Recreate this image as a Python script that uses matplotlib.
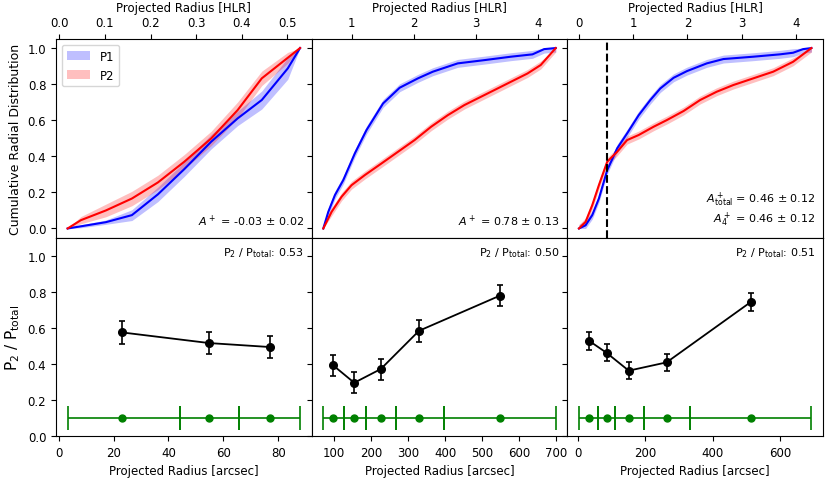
import numpy as np
import matplotlib.pyplot as plt
from matplotlib.ticker import MultipleLocator

# --- top row: cumulative radial distributions (x in HLR) ---
hlr_in = [0.018, 0.047, 0.102, 0.159, 0.216, 0.274, 0.333, 0.391, 0.444, 0.501, 0.528]
p1_in = [0.0, 0.012, 0.035, 0.074, 0.189, 0.329, 0.481, 0.61, 0.712, 0.887, 1.0]
p1_in_err = [0.0, 0.008, 0.012, 0.03, 0.04, 0.04, 0.04, 0.04, 0.05, 0.06, 0.0]
p2_in = [0.0, 0.046, 0.1, 0.166, 0.255, 0.37, 0.499, 0.656, 0.832, 0.946, 1.0]
p2_in_err = [0.0, 0.02, 0.035, 0.04, 0.04, 0.04, 0.04, 0.045, 0.04, 0.03, 0.0]

hlr_out_p1 = [0.546, 0.626, 0.733, 0.867, 1.053, 1.24, 1.507, 1.774, 2.068, 2.308,
              2.708, 3.136, 3.563, 3.91, 4.097, 4.284]
p1_out = [0.0, 0.092, 0.185, 0.268, 0.416, 0.545, 0.693, 0.78, 0.832, 0.869,
          0.915, 0.933, 0.952, 0.965, 0.994, 1.0]
hlr_out_p2 = [0.546, 0.679, 0.84, 1.0, 1.214, 1.48, 1.747, 2.014, 2.281, 2.548,
              2.815, 3.082, 3.349, 3.563, 3.83, 4.043, 4.284]
p2_out = [0.0, 0.092, 0.176, 0.24, 0.296, 0.36, 0.425, 0.49, 0.564, 0.628,
          0.684, 0.73, 0.776, 0.813, 0.859, 0.906, 1.0]

hlr_tot_p1 = [0.007, 0.129, 0.251, 0.373, 0.526, 0.709, 0.892, 1.105, 1.319, 1.502,
              1.746, 1.991, 2.357, 2.662, 3.212, 3.7, 3.944, 4.127, 4.28]
p1_tot = [0.0, 0.018, 0.074, 0.166, 0.323, 0.444, 0.527, 0.628, 0.712, 0.776,
          0.835, 0.872, 0.915, 0.939, 0.952, 0.965, 0.974, 0.994, 1.0]
hlr_tot_p2 = [0.007, 0.129, 0.251, 0.373, 0.526, 0.709, 0.892, 1.105, 1.38, 1.624,
              1.93, 2.235, 2.54, 2.845, 3.212, 3.578, 3.944, 4.28]
p2_tot = [0.0, 0.037, 0.129, 0.24, 0.37, 0.425, 0.49, 0.518, 0.564, 0.601,
          0.651, 0.712, 0.758, 0.795, 0.832, 0.869, 0.924, 1.0]
band_err = 0.022
r_split_hlr = 0.526

a_texts = [r"$A^+$ = -0.03 $\pm$ 0.02",
           r"$A^+$ = 0.78 $\pm$ 0.13",
           "$A^+_{\\rm total}$ = 0.46 $\\pm$ 0.12\n$A^+_4$ = 0.46 $\\pm$ 0.12"]

# --- bottom row: P2 fraction per radial bin (x in arcsec) ---
r_in = [23.1, 54.8, 76.9]
edges_in = [3.3, 44.2, 65.7, 87.9]
frac_in = [0.574, 0.515, 0.493]
frac_in_err = [0.063, 0.063, 0.062]

r_out = [99, 155.5, 227, 330, 547]
edges_out = [72.2, 126.9, 186.9, 268.4, 397.3, 698.2]
frac_out = [0.391, 0.295, 0.371, 0.583, 0.777]
frac_out_err = [0.06, 0.058, 0.058, 0.06, 0.059]

r_tot = [32.5, 84.7, 150.5, 262.6, 511.6]
edges_tot = [3.0, 60.2, 109.0, 194.7, 332.5, 691.6]
frac_tot = [0.528, 0.461, 0.362, 0.408, 0.742]
frac_tot_err = [0.049, 0.048, 0.048, 0.049, 0.049]

p2_total = ["0.53", "0.50", "0.51"]

fs = 8.5
plt.rcParams['font.size'] = fs

fig, axes = plt.subplots(2, 3, figsize=(8.31, 4.81), dpi=100)
fig.subplots_adjust(left=0.0674, right=0.9904, top=0.9168, bottom=0.0915,
                    wspace=0, hspace=0)


def cum_panel(ax, x1, y1, e1, x2, y2, e2, label):
    x1, y1, e1 = np.array(x1), np.array(y1), np.array(e1)
    x2, y2, e2 = np.array(x2), np.array(y2), np.array(e2)
    ax.fill_between(x1, np.clip(y1 - e1, 0, 1), np.clip(y1 + e1, 0, 1),
                    color='blue', alpha=0.25, lw=0, label='P1')
    ax.fill_between(x2, np.clip(y2 - e2, 0, 1), np.clip(y2 + e2, 0, 1),
                    color='red', alpha=0.25, lw=0, label='P2')
    ax.plot(x1, y1, color='blue', lw=1.5)
    ax.plot(x2, y2, color='red', lw=1.5)
    ax.set_ylim(-0.05, 1.05)
    ax.xaxis.tick_top()
    ax.xaxis.set_label_position('top')
    ax.set_xlabel('Projected Radius [HLR]', fontsize=fs)
    ax.text(0.97, 0.05, label, transform=ax.transAxes, ha='right', va='bottom',
            fontsize=8, linespacing=1.1)


def frac_panel(ax, r, edges, frac, err, ptot):
    r = np.array(r)
    edges = np.array(edges)
    xerr = [r - edges[:-1], edges[1:] - r]
    ax.errorbar(r, np.full(len(r), 0.1), xerr=xerr, fmt='o', color='green',
                ms=5, capsize=8.5, elinewidth=1.2, capthick=1.2)
    ax.errorbar(r, frac, yerr=err, fmt='o-', color='black', ms=5.5,
                capsize=2.5, lw=1.3, elinewidth=1.2, capthick=1.2)
    ax.set_ylim(0, 1.1)
    ax.set_xlabel('Projected Radius [arcsec]', fontsize=fs)
    ax.text(0.97, 0.96, r"P$_2$ / P$_{\rm total}$: " + ptot, transform=ax.transAxes,
            ha='right', va='top', fontsize=8)


cum_panel(axes[0, 0], hlr_in, p1_in, p1_in_err, hlr_in, p2_in, p2_in_err, a_texts[0])
cum_panel(axes[0, 1], hlr_out_p1, p1_out, np.full(len(p1_out), band_err),
          hlr_out_p2, p2_out, np.full(len(p2_out), band_err), a_texts[1])
cum_panel(axes[0, 2], hlr_tot_p1, p1_tot, np.full(len(p1_tot), band_err),
          hlr_tot_p2, p2_tot, np.full(len(p2_tot), band_err), a_texts[2])
axes[0, 2].axvline(r_split_hlr, color='black', ls='--', lw=1.5)

frac_panel(axes[1, 0], r_in, edges_in, frac_in, frac_in_err, p2_total[0])
frac_panel(axes[1, 1], r_out, edges_out, frac_out, frac_out_err, p2_total[1])
frac_panel(axes[1, 2], r_tot, edges_tot, frac_tot, frac_tot_err, p2_total[2])

# ticks
axes[0, 0].xaxis.set_major_locator(MultipleLocator(0.1))
axes[0, 1].xaxis.set_major_locator(MultipleLocator(1))
axes[0, 2].xaxis.set_major_locator(MultipleLocator(1))
axes[1, 0].xaxis.set_major_locator(MultipleLocator(20))
axes[1, 1].xaxis.set_major_locator(MultipleLocator(100))
axes[1, 2].xaxis.set_major_locator(MultipleLocator(200))
for ax in axes.flat:
    ax.yaxis.set_major_locator(MultipleLocator(0.2))
for row in axes:
    for ax in row[1:]:
        ax.set_yticklabels([])

axes[0, 0].set_ylabel('Cumulative Radial Distribution', fontsize=9)
axes[1, 0].set_ylabel(r'P$_2$ / P$_{\rm total}$', fontsize=11)
axes[0, 0].legend(loc='upper left', fontsize=fs)

fig.savefig('out.png', dpi=100)
